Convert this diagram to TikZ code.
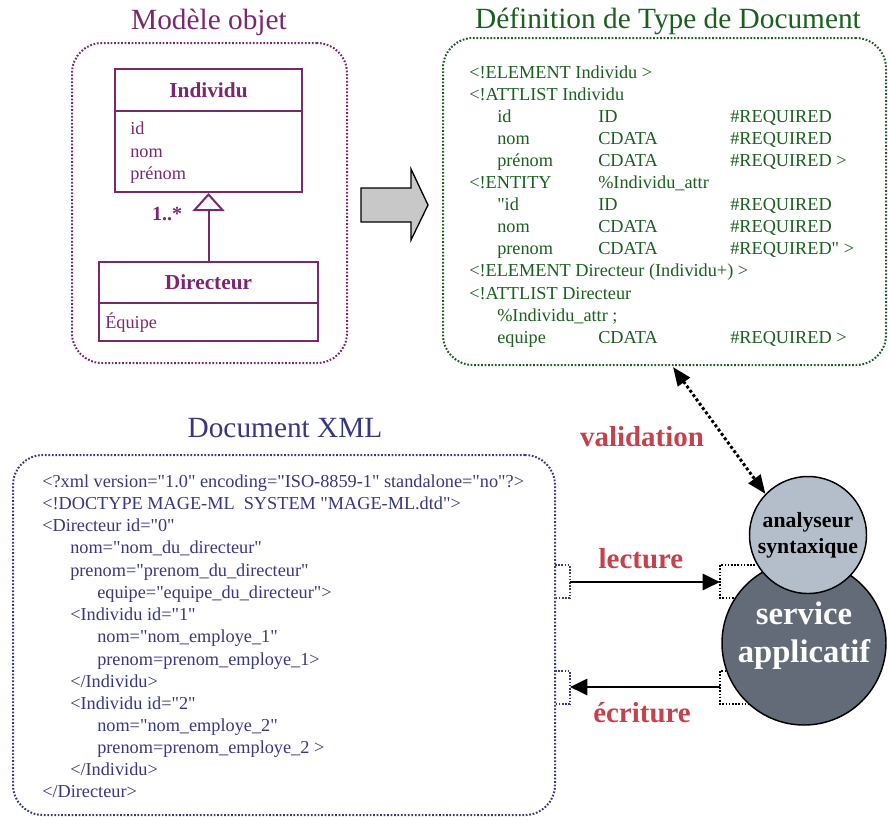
\documentclass[tikz,border=0pt]{standalone}
\usepackage{fontspec}
\setmainfont{Liberation Serif}[Ligatures=TeXOff]
\usetikzlibrary{arrows.meta}
\definecolor{umlpurple}{RGB}{122,40,110}
\definecolor{dtdgreen}{RGB}{25,95,30}
\definecolor{xmlblue}{RGB}{55,55,130}
\definecolor{labred}{RGB}{196,66,76}
\definecolor{anafill}{RGB}{180,190,202}
\definecolor{servfill}{RGB}{99,107,120}
\definecolor{arrowgray}{RGB}{200,200,200}
\begin{document}
\begin{tikzpicture}[x=0.75pt,y=-0.75pt,
  frame/.style={draw, line width=1.5pt, dash pattern=on 1.3pt off 1.3pt, rounded corners=22.5pt, inner sep=0},
  titletext/.style={font=\fontsize{22pt}{26pt}\selectfont, inner sep=0},
  body/.style={font=\fontsize{13.7pt}{16pt}\selectfont, anchor=base west, inner sep=0},
  dtdtext/.style={body, text=dtdgreen},
  xmltext/.style={body, text=xmlblue},
  umltext/.style={body, text=umlpurple},
  classbox/.style={draw=umlpurple, line width=1.5pt, inner sep=0, text=umlpurple},
  classname/.style={classbox, font=\bfseries\fontsize{16pt}{19pt}\selectfont},
  lab/.style={font=\bfseries\fontsize{21.7pt}{26pt}\selectfont, text=labred, inner sep=0},
  bracket/.style={line width=1.4pt, dash pattern=on 1.2pt off 1.2pt},
  flow/.style={line width=2.2pt, -{Triangle[length=13pt,width=12pt]}}
]
\useasboundingbox (0,0) rectangle (888,819);

% ---------------- Modele objet ----------------
\node[titletext, text=umlpurple] (t1) at (209,22) {Modèle objet};
\node[frame, draw=umlpurple, minimum width=206.25pt, minimum height=240pt] (modele) at (209.5,203) {};
\node[classname, minimum width=140.25pt, minimum height=31.5pt] (indhead) at (208.5,90) {Individu};
\node[classbox, minimum width=140.25pt, minimum height=60.75pt] (indbody) at (208.5,151.5) {};
\node[umltext] (a1) at (130,134) {id};
\node[umltext] (a2) at (130,157) {nom};
\node[umltext] (a3) at (130,179) {prénom};
\node[classname, minimum width=164.25pt, minimum height=30.75pt] (dirhead) at (208.5,282.5) {Directeur};
\node[classbox, minimum width=164.25pt, minimum height=28.5pt] (dirbody) at (208.5,322) {};
\node[umltext] (a4) at (105,328) {Équipe};
\draw[umlpurple, line width=1.5pt, -{Triangle[open, length=13.5pt, width=24pt]}] (dirhead.north) -- (indbody.south);
\node[text=umlpurple, font=\bfseries\fontsize{15pt}{18pt}\selectfont, inner sep=0] (mult) at (167,214) {1..*};

% ---------------- big arrow ----------------
\draw[line width=1pt, fill=arrowgray] (361,188) -- (411,188) -- (411,169) -- (428,205) -- (411,240) -- (411,222) -- (361,222) -- cycle;

% ---------------- DTD ----------------
\node[titletext, text=dtdgreen] (t2) at (668,21) {Définition de Type de Document};
\node[frame, draw=dtdgreen, minimum width=332.25pt, minimum height=245.25pt] (dtd) at (664.5,201.5) {};
\node[dtdtext] at (469,78) {<!ELEMENT Individu >};
\node[dtdtext] at (469,100) {<!ATTLIST Individu};
\node[dtdtext] at (497,122) {id};
\node[dtdtext] at (598,122) {ID};
\node[dtdtext] at (730,122) {\#REQUIRED};
\node[dtdtext] at (497,144) {nom};
\node[dtdtext] at (598,144) {CDATA};
\node[dtdtext] at (730,144) {\#REQUIRED};
\node[dtdtext] at (497,166) {prénom};
\node[dtdtext] at (598,166) {CDATA};
\node[dtdtext] at (730,166) {\#REQUIRED >};
\node[dtdtext] at (469,188) {<!ENTITY};
\node[dtdtext] at (598,188) {\%Individu\_attr};
\node[dtdtext] at (497,210) {"id};
\node[dtdtext] at (598,210) {ID};
\node[dtdtext] at (730,210) {\#REQUIRED};
\node[dtdtext] at (497,232) {nom};
\node[dtdtext] at (598,232) {CDATA};
\node[dtdtext] at (730,232) {\#REQUIRED};
\node[dtdtext] at (497,254) {prenom};
\node[dtdtext] at (598,254) {CDATA};
\node[dtdtext] at (730,254) {\#REQUIRED" >};
\node[dtdtext] at (469,276) {<!ELEMENT Directeur (Individu+) >};
\node[dtdtext] at (469,299) {<!ATTLIST Directeur};
\node[dtdtext] at (497,321) {\%Individu\_attr ;};
\node[dtdtext] at (497,343) {equipe};
\node[dtdtext] at (598,343) {CDATA};
\node[dtdtext] at (730,343) {\#REQUIRED >};

% ---------------- XML ----------------
\node[titletext, text=xmlblue] (t3) at (285,428) {Document XML};
\node[frame, draw=xmlblue, minimum width=406.5pt, minimum height=270pt] (xml) at (284,635) {};
\node[xmltext] at (42,487) {<?xml version="1.0" encoding="ISO-8859-1" standalone="no"?>};
\node[xmltext] at (42,509) {<!DOCTYPE MAGE-ML\ \ SYSTEM "MAGE-ML.dtd">};
\node[xmltext] at (42,531) {<Directeur id="0"};
\node[xmltext] at (70,553) {nom="nom\_du\_directeur"};
\node[xmltext] at (70,576) {prenom="prenom\_du\_directeur"};
\node[xmltext] at (97,598) {equipe="equipe\_du\_directeur">};
\node[xmltext] at (70,620) {<Individu id="1"};
\node[xmltext] at (97,642) {nom="nom\_employe\_1"};
\node[xmltext] at (97,665) {prenom=prenom\_employe\_1>};
\node[xmltext] at (70,687) {</Individu>};
\node[xmltext] at (70,709) {<Individu id="2"};
\node[xmltext] at (97,731) {nom="nom\_employe\_2"};
\node[xmltext] at (97,753) {prenom=prenom\_employe\_2 >};
\node[xmltext] at (70,775) {</Individu>};
\node[xmltext] at (42,797) {</Directeur>};

% ---------------- brackets ----------------
\draw[bracket, xmlblue] (555,565) -- (570,565) -- (570,598) -- (555,598);
\draw[bracket, xmlblue] (555,671) -- (570,671) -- (570,704) -- (555,704);
\draw[bracket, black] (755,565) -- (720,565) -- (720,598) -- (755,598);
\draw[bracket, black] (755,671) -- (720,671) -- (720,704) -- (755,704);

% ---------------- circles ----------------
\node[circle, draw, line width=1.1pt, fill=servfill, minimum size=123pt, inner sep=0] (serv) at (804,643) {};
\node[text=white, font=\bfseries\fontsize{24.5pt}{28.5pt}\selectfont, align=center, inner sep=0] (servtext) at (804,636) {service\\applicatif};
\node[circle, draw, line width=1.1pt, fill=anafill, minimum size=87.75pt, inner sep=0,
      font=\bfseries\fontsize{16.3pt}{19.5pt}\selectfont, align=center] (ana) at (808,535) {analyseur\\syntaxique};

% ---------------- connectors ----------------
\coordinate (lecA) at (570,582);
\coordinate (lecB) at (720,582);
\coordinate (ecrA) at (720,687);
\coordinate (ecrB) at (570,687);
\coordinate (valA) at (673,367);
\draw[flow] (lecA) -- (lecB);
\draw[flow] (ecrA) -- (ecrB);
\draw[line width=2.2pt, dash pattern=on 2.2pt off 1.8pt,
      {Triangle[length=14pt,width=11pt]}-{Triangle[length=14pt,width=11pt]}] (valA) -- (ana.136);

\node[lab] (lval) at (642,437) {validation};
\node[lab] (llec) at (641,559) {lecture};
\node[lab] (lecr) at (642,713) {écriture};
\end{tikzpicture}
\end{document}
